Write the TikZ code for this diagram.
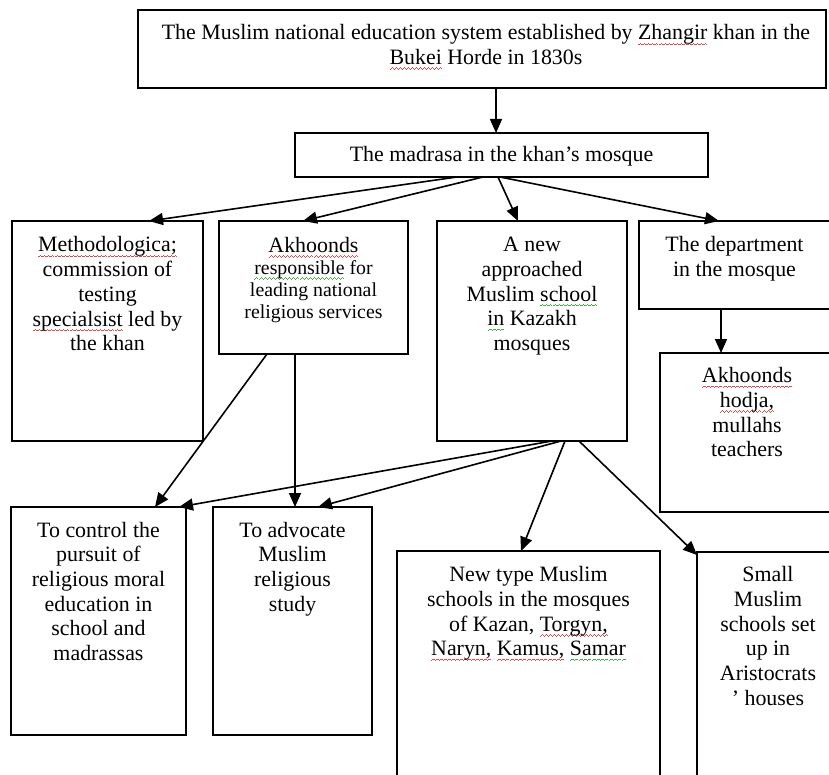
\documentclass[tikz,border=0pt]{standalone}
\usepackage{fontspec}
\setmainfont{Liberation Serif}
\usetikzlibrary{arrows.meta}

\definecolor{spellred}{RGB}{228,72,72}
\definecolor{gramgreen}{RGB}{72,168,72}

% one period of a wavy proofing underline, built from short rules
\newcommand{\wavecell}{\hbox{%
  \rule[-5.2pt]{1pt}{0.8pt}\rule[-4.4pt]{1pt}{0.8pt}%
  \rule[-3.6pt]{1pt}{0.8pt}\rule[-4.4pt]{1pt}{0.8pt}}}
\newcommand{\wavy}[2]{\leavevmode\setbox0\hbox{#2}%
  \rlap{\hbox to \wd0{\color{#1}\xleaders\wavecell\hfill}}\box0\relax}
\newcommand{\spellmark}[1]{\wavy{spellred}{#1}}
\newcommand{\grammark}[1]{\wavy{gramgreen}{#1}}

% box content: width, height, first-baseline offset, text
\newcommand{\boxtext}[4]{\parbox[t][#2][t]{#1}{\centering\rule{0pt}{#3}#4}}

\begin{document}
\begin{tikzpicture}[x=1pt, y=-1pt,
  box/.style={draw, line width=1.6pt, inner sep=0pt, outer sep=0pt, anchor=north west,
              font=\fontsize{21.9}{24.7}\selectfont},
  arr/.style={line width=1.6pt, -{Triangle[length=14pt,width=12pt]}}]

\useasboundingbox (0,0) rectangle (829,775);
\clip (0,0) rectangle (829,775);

% boxes
\node[box] (top) at (138,10) {\boxtext{688pt}{78pt}{30pt}{\hspace*{8pt}The Muslim national education system established by \spellmark{Zhangir} khan in the\\ \hspace*{8pt}\spellmark{Bukei} Horde in 1830s}};
\node[box] (mad) at (295,133) {\boxtext{413pt}{44pt}{29pt}{The madrasa in the khan’s mosque}};

\node[box] (meth) at (12,221) {\boxtext{191pt}{220pt}{31pt}{\spellmark{Methodologica;}\\ commission of\\ testing\\ \spellmark{specialsist} led by\\ the khan}};
\node[box] (akh) at (219,221) {\boxtext{189pt}{133pt}{31.5pt}{\spellmark{Akhoonds}\par{\fontsize{19.8}{22}\selectfont \grammark{responsible} for\\ leading national\\ religious services\par}}};
\node[box] (anew) at (437,221) {\boxtext{190pt}{220pt}{30.7pt}{A new\\ approached\\ Muslim \grammark{school}\\ \grammark{in} Kazakh\\ mosques}};
\node[box] (dept) at (639,221) {\boxtext{191pt}{88pt}{30.7pt}{The department\\ in the mosque}};
\node[box] (hodja) at (660,353) {\boxtext{174pt}{159pt}{29.7pt}{\spellmark{Akhoonds}\\ \spellmark{hodja,}\\ mullahs\\ teachers}};

\node[box] (ctrl) at (11,507) {\boxtext{175pt}{228pt}{30pt}{To control the\\ pursuit of\\ religious moral\\ education in\\ school and\\ madrassas}};
\node[box] (advo) at (213,507) {\boxtext{159pt}{228pt}{30pt}{To advocate\\ Muslim\\ religious\\ study}};
\node[box] (newt) at (397,551) {\boxtext{263pt}{240pt}{30.7pt}{New type Muslim\\ schools in the mosques\\ of Kazan, \spellmark{Torgyn,}\\ \spellmark{Naryn,} \spellmark{Kamus,} \grammark{Samar}}};
\node[box] (small) at (697,552) {\boxtext{142pt}{240pt}{29.7pt}{Small\\ Muslim\\ schools set\\ up in\\ Aristocrats\\ ’ houses}};

% connectors
\draw[arr] ([xshift=358pt]top.south west) -- ([xshift=201pt]mad.north west);
\draw[arr] ([xshift=162pt]mad.south west) -- ([xshift=137pt]meth.north west);
\draw[arr] ([xshift=188pt]mad.south west) -- ([xshift=84pt]akh.north west);
\draw[arr] ([xshift=203pt]mad.south west) -- ([xshift=81pt]anew.north west);
\draw[arr] ([xshift=205pt]mad.south west) -- ([xshift=80pt]dept.north west);
\draw[arr] ([xshift=82pt]dept.south west) -- ([xshift=61pt]hodja.north west);

\draw[arr] ([xshift=48pt]akh.south west) -- ([xshift=144pt]ctrl.north west);
\draw[arr] ([xshift=76pt]akh.south west) -- ([xshift=82pt]advo.north west);

\draw[arr] ([xshift=115pt]anew.south west) -- ([xshift=168pt]ctrl.north west);
\draw[arr] ([xshift=124pt]anew.south west) -- ([xshift=105pt]advo.north west);
\draw[arr] ([xshift=128pt]anew.south west) -- ([xshift=124pt]newt.north west);
\draw[arr] ([xshift=142pt]anew.south west) -- ([yshift=-3pt]small.north west);
\end{tikzpicture}
\end{document}
